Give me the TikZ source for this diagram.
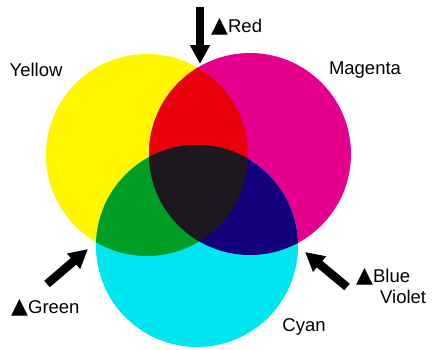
\documentclass[tikz,border=0pt]{standalone}
\usepackage{fontspec}
\setmainfont{Liberation Sans}
\newfontfamily\symfont{DejaVu Sans}
\usepackage{tikz}
\usetikzlibrary{arrows.meta}
\definecolor{yellowink}{RGB}{255,246,0}
\definecolor{magentaink}{RGB}{228,0,140}
\definecolor{cyanink}{RGB}{0,230,240}
\definecolor{redink}{RGB}{232,0,10}
\definecolor{greenink}{RGB}{0,158,36}
\definecolor{blueink}{RGB}{18,0,125}
\definecolor{blackink}{RGB}{28,24,30}
\newcommand{\tri}{{\symfont\fontsize{22}{22}\selectfont ▲}}

\begin{document}
\begin{tikzpicture}[
  x=1pt, y=-1pt,
  lbl/.style={font=\fontsize{18.5}{21}\selectfont, inner sep=0pt},
  push/.style={line width=8.5pt, black,
               -{Triangle[width=19pt, length=19pt]}},
]
\useasboundingbox (0,0) rectangle (440,349);
\def\rad{101pt}

%% Ink centres
\coordinate (yc) at (147,155);
\coordinate (mc) at (250,154);
\coordinate (cc) at (197,246);

%% Single inks
\foreach \c/\col in {yc/yellowink, mc/magentaink, cc/cyanink}{
  \fill[\col] (\c) circle[radius=\rad];
}

%% Two-ink overlaps
\foreach \a/\b/\col in {yc/mc/redink, yc/cc/greenink, mc/cc/blueink}{
  \begin{scope}
    \clip (\a) circle[radius=\rad];
    \fill[\col] (\b) circle[radius=\rad];
  \end{scope}
}

%% Three-ink overlap
\begin{scope}
  \clip (yc) circle[radius=\rad];
  \clip (mc) circle[radius=\rad];
  \fill[blackink] (cc) circle[radius=\rad];
\end{scope}

%% Ink names
\node[lbl] (yellow) at (36,70) {Yellow};
\node[lbl] (magenta) at (365,70) {Magenta};
\node[lbl] (cyan) at (304,327) {Cyan};

%% Mixed colours
\node[lbl, anchor=west] (red) at (211,27) {\tri Red};
\node[lbl, anchor=west] (green) at (11,308) {\tri Green};
\node[lbl, anchor=north west, align=left] (blue) at (356,268)
  {\tri Blue\\\hspace*{24pt}Violet};

%% Arrows
\coordinate (redtail) at (200,7);
\coordinate (redtip) at (200,64);
\coordinate (greentail) at (47,284);
\coordinate (greentip) at (88,249);
\coordinate (bluetail) at (347,287);
\coordinate (bluetip) at (305,252);
\draw[push] (redtail) -- (redtip);
\draw[push] (greentail) -- (greentip);
\draw[push] (bluetail) -- (bluetip);
\end{tikzpicture}
\end{document}
